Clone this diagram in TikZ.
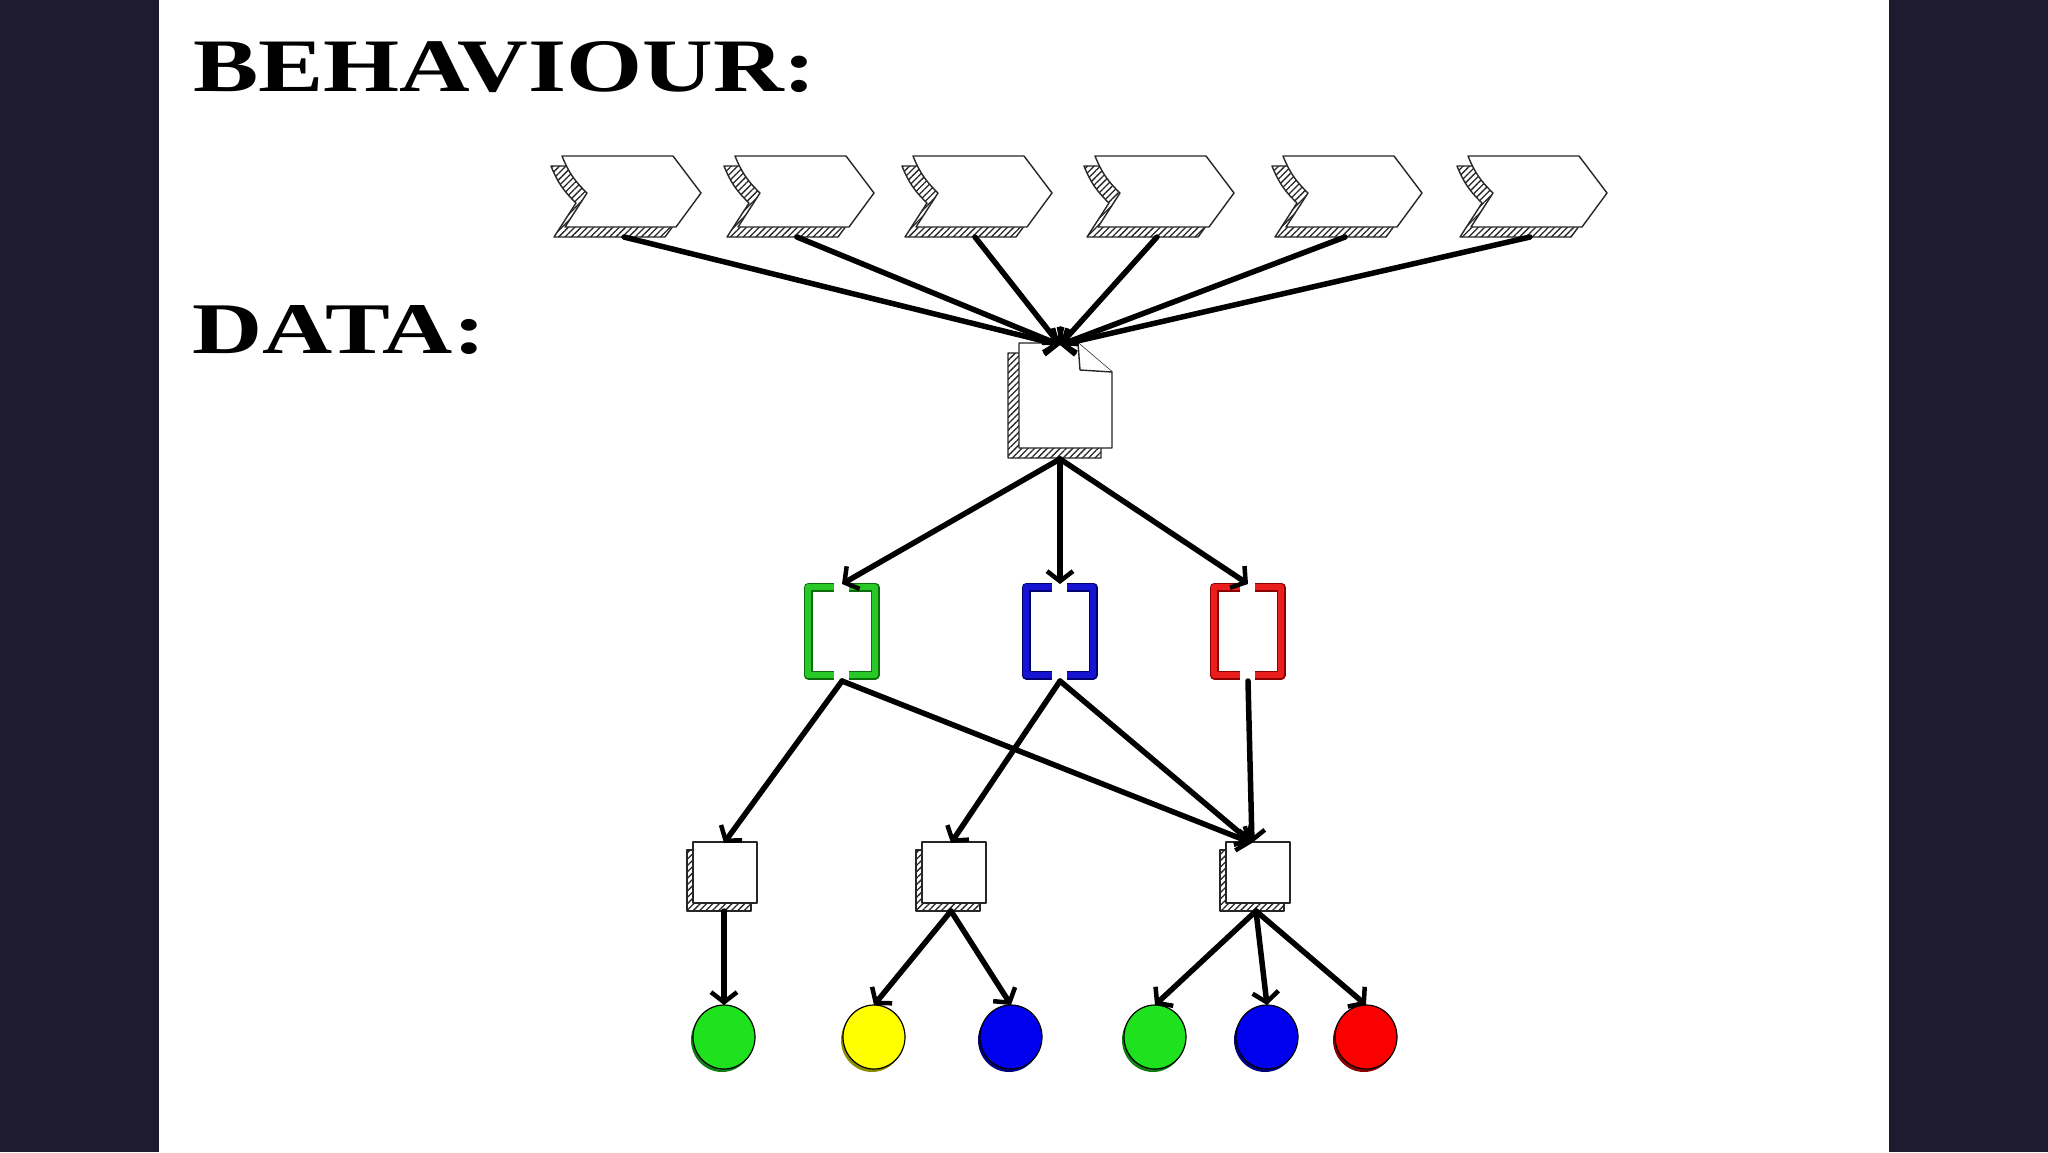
\documentclass[tikz,border=0pt]{standalone}
\usepackage{fontspec}
\setmainfont{Liberation Serif}
\usetikzlibrary{arrows.meta,patterns.meta}
\definecolor{band}{HTML}{1E1A30}
\definecolor{gfill}{RGB}{30,226,30}
\definecolor{yfill}{RGB}{255,255,0}
\definecolor{bfill}{RGB}{0,0,238}
\definecolor{rfill}{RGB}{250,0,0}
\definecolor{gbr}{RGB}{40,200,40}
\definecolor{gbrd}{RGB}{10,110,10}
\definecolor{bbr}{RGB}{20,20,210}
\definecolor{bbrd}{RGB}{0,0,110}
\definecolor{rbr}{RGB}{235,30,30}
\definecolor{rbrd}{RGB}{140,0,0}
\tikzset{
  hatch/.style={pattern={Lines[angle=45,distance=4.5pt,line width=1.3pt]},pattern color=black!85},
  outl/.style={draw=black!85,line width=1.4pt,line join=round},
  arr/.style={line width=5.5pt,line cap=round,-{Straight Barb[length=10pt,width=26pt,line width=4.5pt]}},
  title/.style={inner sep=0pt,anchor=base west},
  circ/.style={draw=black,line width=1.2pt}
}
\begin{document}
\begin{tikzpicture}[x=1pt,y=-1pt]
\useasboundingbox (0,0) rectangle (2048,1152);
\fill[band] (0,0) rectangle (159,1152);
\fill[band] (1889,0) rectangle (2048,1152);
\fill[white] (159,0) rectangle (1889,1152);

% titles
\node[title] (tb) at (193,91) {\resizebox{623pt}{50pt}{\bfseries BEHAVIOUR:}};
\node[title] (td) at (192,353) {\resizebox{293pt}{48pt}{\bfseries DATA:}};

% chevrons
\foreach \i/\xx in {1/562,2/735,3/913,4/1095,5/1283,6/1468}{
  \begin{scope}[shift={(\xx,156)}]
    \path[hatch,outl] (-11,10) to[bend right=12] (14,47) -- (-8,81) -- (103,81) -- (128,47) -- (100,10) -- cycle;
    \path[fill=white,outl] (0,0) -- (111,0) -- (139,37) -- (114,71) -- (3,71) -- (25,37) to[bend left=12] cycle;
  \end{scope}
  \coordinate (ch\i) at (\xx+62,237);
}

% document
\coordinate (docTop) at (1060,345);
\coordinate (docBot) at (1060,459);
\path[hatch,outl] (1008,353) -- (1067,353) -- (1101,382) -- (1101,458) -- (1008,458) -- cycle;
\path[fill=white,outl] (1019,343) -- (1078,343) -- (1112,372) -- (1112,448) -- (1019,448) -- cycle;
\path[fill=white,outl] (1078,343) -- (1080,370) -- (1112,372);

\foreach \i in {1,...,6}{\draw[arr] (ch\i) -- (docTop);}

% brackets
\foreach \n/\bx/\c/\d in {g/803/gbr/gbrd,b/1021/bbr/bbrd,r/1209/rbr/rbrd}{
  \foreach \w/\col in {9/\d,5.5/\c}{
    \draw[line width=\w pt,\col,line join=round] (\bx+31,587) -- (\bx+5,587) -- (\bx+5,675) -- (\bx+31,675);
    \draw[line width=\w pt,\col,line join=round] (\bx+46,587) -- (\bx+72,587) -- (\bx+72,675) -- (\bx+46,675);
  }
  \coordinate (\n T) at (\bx+39,584);
  \coordinate (\n B) at (\bx+39,681);
}

\draw[arr] (docBot) -- (gT);
\draw[arr] (docBot) -- (bT);
\draw[arr] (docBot) -- (rT);

% boxes
\foreach \i/\bx in {1/693,2/922,3/1226}{
  \path[hatch,outl] (\bx-6,850) rectangle (\bx+58,911);
  \path[fill=white,outl] (\bx,842) rectangle (\bx+64,903);
}
\coordinate (b1T) at (724,843);
\coordinate (b2T) at (951,843);
\coordinate (b3T) at (1252,843);
\coordinate (b1B) at (724,911);
\coordinate (b2B) at (951,911);
\coordinate (b3B) at (1256,911);

\draw[arr] (gB) -- (b1T);
\draw[arr] (gB) -- (b3T);
\draw[arr] (bB) -- (b2T);
\draw[arr] (bB) -- (b3T);
\draw[arr] (rB) -- (b3T);

% circles
\foreach \n/\cx/\c in {c1/724/gfill,c2/874/yfill,c3/1011/bfill,c4/1155/gfill,c5/1267/bfill,c6/1366/rfill}{
  \fill[\c!55!black] (\cx-2,1040) ellipse [x radius=31,y radius=32];
  \path[circ,fill=\c] (\cx,1037) ellipse [x radius=31,y radius=32];
  \coordinate (\n) at (\cx,1005);
}

\draw[arr] (b1B) -- (c1);
\draw[arr] (b2B) -- (c2);
\draw[arr] (b2B) -- (c3);
\draw[arr] (b3B) -- (c4);
\draw[arr] (b3B) -- (c5);
\draw[arr] (b3B) -- (c6);
\end{tikzpicture}
\end{document}
